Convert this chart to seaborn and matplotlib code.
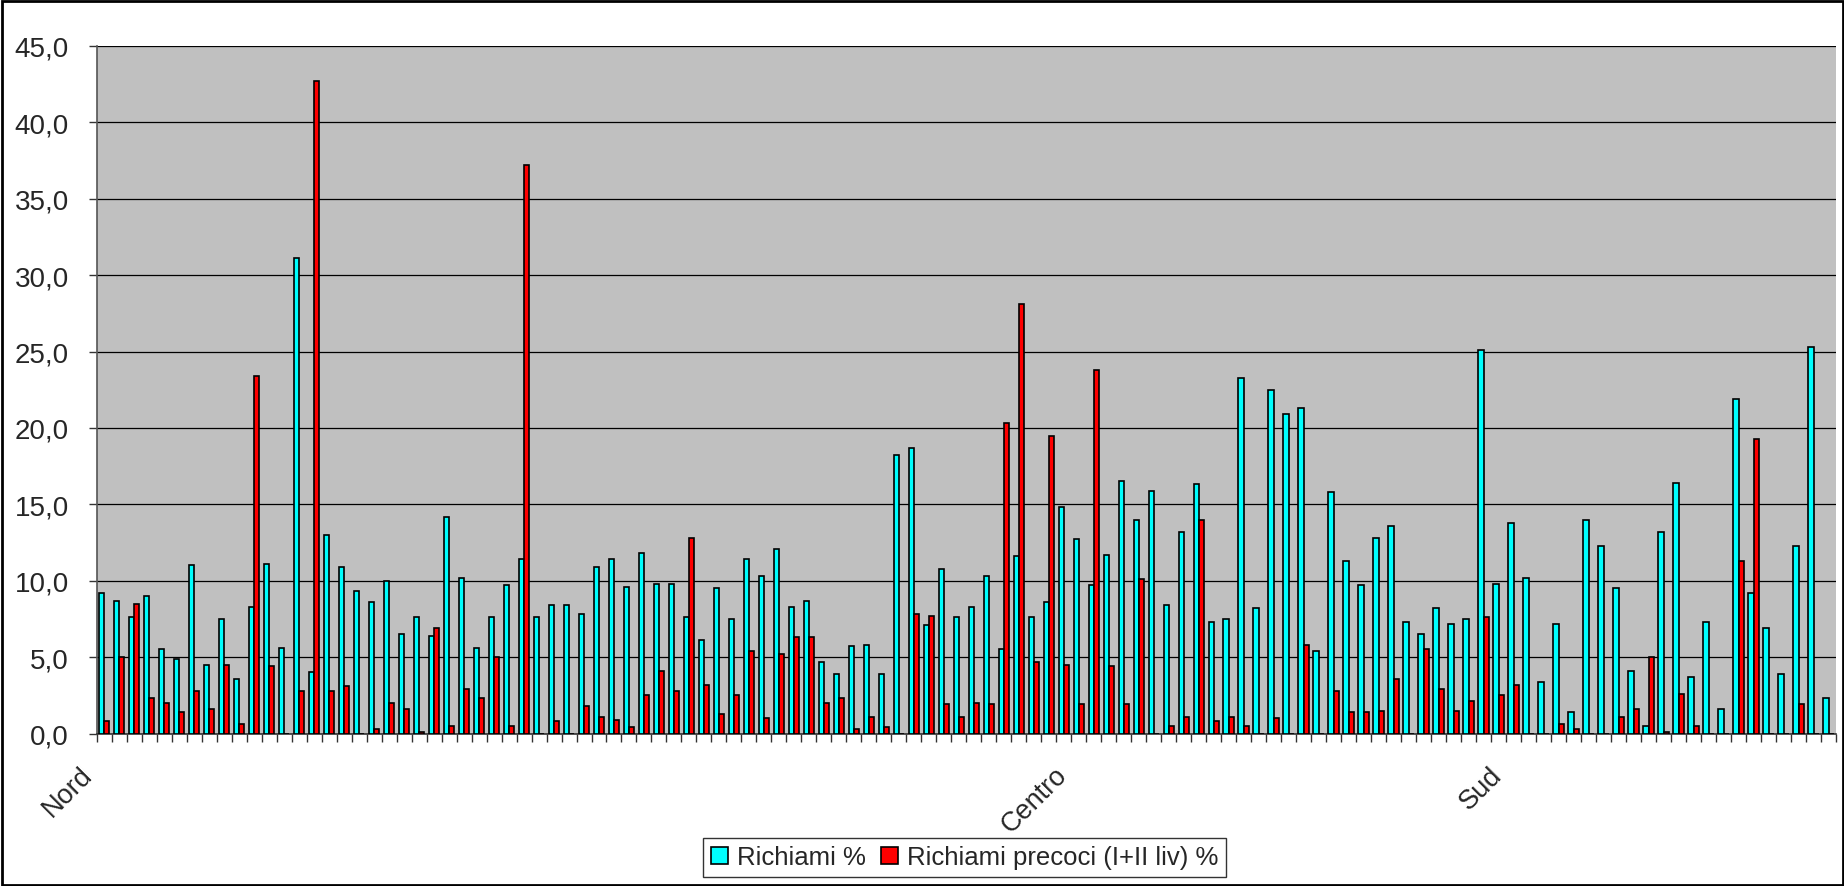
import numpy as np
import pandas as pd
import matplotlib
matplotlib.use("Agg")
import matplotlib.pyplot as plt
import matplotlib.transforms as mtransforms
from matplotlib.ticker import FuncFormatter
import seaborn as sns

# ---------------- data ----------------
richiami = [
    9.2, 8.7, 7.6, 9.0, 5.5, 4.9, 11.0, 4.5, 7.5, 3.6,
    8.3, 11.1, 5.6, 31.1, 4.0, 13.0, 10.9, 9.3, 8.6, 10.0,
    6.5, 7.6, 6.4, 14.2, 10.2, 5.6, 7.6, 9.7, 11.4, 7.6,
    8.4, 8.4, 7.8, 10.9, 11.4, 9.6, 11.8, 9.8, 9.8, 7.6,
    6.1, 9.5, 7.5, 11.4, 10.3, 12.1, 8.3, 8.7, 4.7, 3.9,
    5.7, 5.8, 3.9, 18.2, 18.7, 7.1, 10.8, 7.6, 8.3, 10.3,
    5.5, 11.6, 7.6, 8.6, 14.8, 12.7, 9.7, 11.7, 16.5, 14.0,
    15.9, 8.4, 13.2, 16.3, 7.3, 7.5, 23.3, 8.2, 22.5, 20.9,
    21.3, 5.4, 15.8, 11.3, 9.7, 12.8, 13.6, 7.3, 6.5, 8.2,
    7.2, 7.5, 25.1, 9.8, 13.8, 10.2, 3.4, 7.2, 1.4, 14.0,
    12.3, 9.5, 4.1, 0.5, 13.2, 16.4, 3.7, 7.3, 1.6, 21.9,
    9.2, 6.9, 3.9, 12.3, 25.3, 2.3,
]
precoci = [
    0.8, 5.0, 8.5, 2.3, 2.0, 1.4, 2.8, 1.6, 4.5, 0.6,
    23.4, 4.4, 0.0, 2.8, 42.7, 2.8, 3.1, 0.0, 0.3, 2.0,
    1.6, 0.1, 6.9, 0.5, 2.9, 2.3, 5.0, 0.5, 37.2, 0.0,
    0.8, 0.0, 1.8, 1.1, 0.9, 0.4, 2.5, 4.1, 2.8, 12.8,
    3.2, 1.3, 2.5, 5.4, 1.0, 5.2, 6.3, 6.3, 2.0, 2.3,
    0.3, 1.1, 0.4, 0.0, 7.8, 7.7, 1.9, 1.1, 2.0, 1.9,
    20.3, 28.1, 4.7, 19.5, 4.5, 1.9, 23.8, 4.4, 1.9, 10.1,
    0.0, 0.5, 1.1, 14.0, 0.8, 1.1, 0.5, 0.0, 1.0, 0.0,
    5.8, 0.0, 2.8, 1.4, 1.4, 1.5, 3.6, 0.0, 5.5, 2.9,
    1.5, 2.1, 7.6, 2.5, 3.2, 0.0, 0.0, 0.6, 0.3, 0.0,
    0.0, 1.1, 1.6, 5.0, 0.1, 2.6, 0.5, 0.0, 0.0, 11.3,
    19.3, 0.0, 0.0, 1.9, 0.0, 0.0,
]
n = len(richiami)
area_labels = {0: "Nord", 65: "Centro", 94: "Sud"}
tick_labels = [area_labels.get(i, "") for i in range(n)]
series_names = ["Richiami %", "Richiami precoci (I+II liv) %"]
colors = ["#00FFFF", "#FF0000"]

df = pd.DataFrame({
    "idx": list(range(n)) * 2,
    "val": richiami + precoci,
    "serie": [series_names[0]] * n + [series_names[1]] * n,
})

# ---------------- figure ----------------
sns.set_theme(style="white")
plt.rcParams["font.family"] = ["Liberation Sans", "DejaVu Sans"]

W, H = 1844, 887
fig = plt.figure(figsize=(W / 100, H / 100), dpi=100)
fig.patch.set_facecolor("white")
left_px, right_px, top_px, bottom_px = 96.7, 1836.0, 47.0, 734.5
ax = fig.add_axes([left_px / W, 1 - bottom_px / H,
                   (right_px - left_px) / W, (bottom_px - top_px) / H])
ax.set_facecolor("#C0C0C0")

sns.barplot(data=df, x="idx", y="val", hue="serie", hue_order=series_names,
            palette=colors, saturation=1, width=0.7, edgecolor="black",
            linewidth=1.2, ax=ax, errorbar=None, zorder=3)

ax.set_xlim(-0.5, n - 0.5)
ax.set_ylim(0, 45)
ax.set_yticks(np.arange(0, 46, 5))
ax.yaxis.set_major_formatter(FuncFormatter(lambda v, p: f"{v:.1f}".replace(".", ",")))
ax.yaxis.grid(True, color="black", linewidth=0.9, zorder=1)
ax.set_axisbelow(True)
ax.set_xlabel("")
ax.set_ylabel("")

# x ticks at category boundaries, labels at category centres
ax.set_xticks(np.arange(n + 1) - 0.5)
ax.set_xticklabels([""] * (n + 1))
ax.set_xticks(np.arange(n), minor=True)
ax.set_xticklabels(tick_labels, minor=True, rotation=45, ha="right",
                   va="top", rotation_mode="anchor", fontsize=19.5)
ax.tick_params(axis="x", which="major", direction="out", length=6,
               width=1, color="#333333", bottom=True)
ax.tick_params(axis="x", which="minor", length=0, pad=20)
offset = mtransforms.ScaledTranslation(-25 / 100, 0, fig.dpi_scale_trans)
for lab in ax.get_xticklabels(minor=True):
    lab.set_transform(lab.get_transform() + offset)

ax.tick_params(axis="y", which="major", direction="out", length=6,
               width=1, color="#333333", left=True, labelsize=20, pad=14)

for s in ["top", "right"]:
    ax.spines[s].set_visible(False)
ax.spines["left"].set_color("#555555")
ax.spines["bottom"].set_color("#333333")
ax.spines["left"].set_linewidth(1.2)
ax.spines["bottom"].set_linewidth(1.2)

# legend
handles, labels = ax.get_legend_handles_labels()
ax.get_legend().remove()
leg = fig.legend(handles, labels, loc="center", ncol=2,
                 bbox_to_anchor=((702 + 1227) / 2 / W, 1 - (837 + 880) / 2 / H),
                 frameon=True, fancybox=False, shadow=False, fontsize=18.5,
                 handlelength=0.65, handleheight=0.65, handletextpad=0.35,
                 columnspacing=0.6, borderpad=0.3, borderaxespad=0)
leg.get_frame().set_edgecolor("black")
leg.get_frame().set_linewidth(1.0)
for h in leg.legend_handles:
    h.set_edgecolor("black")
    h.set_linewidth(1.2)

# chart border
fig.add_artist(plt.Rectangle((1.5 / W, 1.5 / H), 1 - 3 / W, 1 - 3 / H,
                             transform=fig.transFigure, fill=False,
                             edgecolor="black", linewidth=2))

fig.savefig("out.png", dpi=100)
